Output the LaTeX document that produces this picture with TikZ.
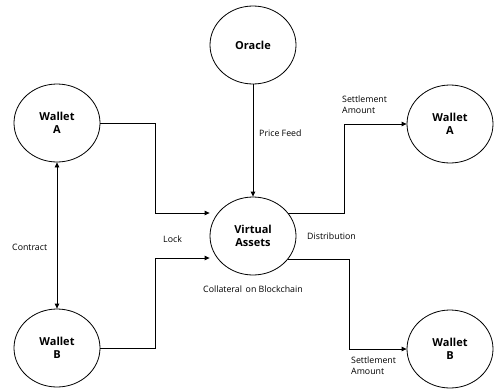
\documentclass[tikz,border=0pt]{standalone}
\usepackage{fontspec}
\setmainfont{Open Sans}
\usetikzlibrary{shapes.geometric,arrows.meta}
\begin{document}
\begin{tikzpicture}[x=1pt,y=-1pt,
  ent/.style={draw,ellipse,line width=0.8pt,minimum width=86pt,minimum height=78pt,inner sep=0pt,
    font=\fontsize{11}{12.5}\selectfont\bfseries,align=center},
  lbl/.style={font=\fontsize{8.8}{10.8}\selectfont,inner sep=0pt,align=left},
  conn/.style={line width=0.8pt,-{Triangle[length=5pt,width=4.5pt]}},
  dconn/.style={line width=0.8pt,{Triangle[length=5pt,width=4.5pt]}-{Triangle[length=5pt,width=4.5pt]}}]
\useasboundingbox (0,0) rectangle (494,388);
\node[ent] (or) at (253,45) {Oracle};
\node[ent] (wa) at (57,123) {Wallet\\A};
\node[ent] (wa2) at (450,124) {Wallet\\A};
\node[ent] (va) at (253,236) {Virtual\\Assets};
\node[ent] (wb) at (57,348) {Wallet\\B};
\node[ent] (wb2) at (450,349) {Wallet\\B};
% connectors
\draw[conn] (wa.east) -- (155,123) |- (va.west |- 0,213);
\draw[conn] (wb.east) -- (155,348) |- (va.west |- 0,258);
\draw[dconn] (wa.south) -- (wb.north);
\draw[conn] (or.south) -- (va.north);
\draw[conn] (va.33) -- (va.33 -| 344,0) |- (wa2.west);
\draw[conn] (va.-33) -- (va.-33 -| 349,0) |- (wb2.west);
% labels
\node[lbl,anchor=west] (pf) at (259,133) {Price Feed};
\node[lbl,anchor=west] (sa1) at (342,105) {Settlement\\Amount};
\node[lbl,anchor=west] (di) at (307,236) {Distribution};
\node[lbl,anchor=west] (co) at (203,289) {Collateral\, on Blockchain};
\node[lbl,anchor=west] (lk) at (163,239) {Lock};
\node[lbl,anchor=west] (ct) at (12,247) {Contract};
\node[lbl,anchor=west] (sa2) at (351,366) {Settlement\\Amount};
\end{tikzpicture}
\end{document}
